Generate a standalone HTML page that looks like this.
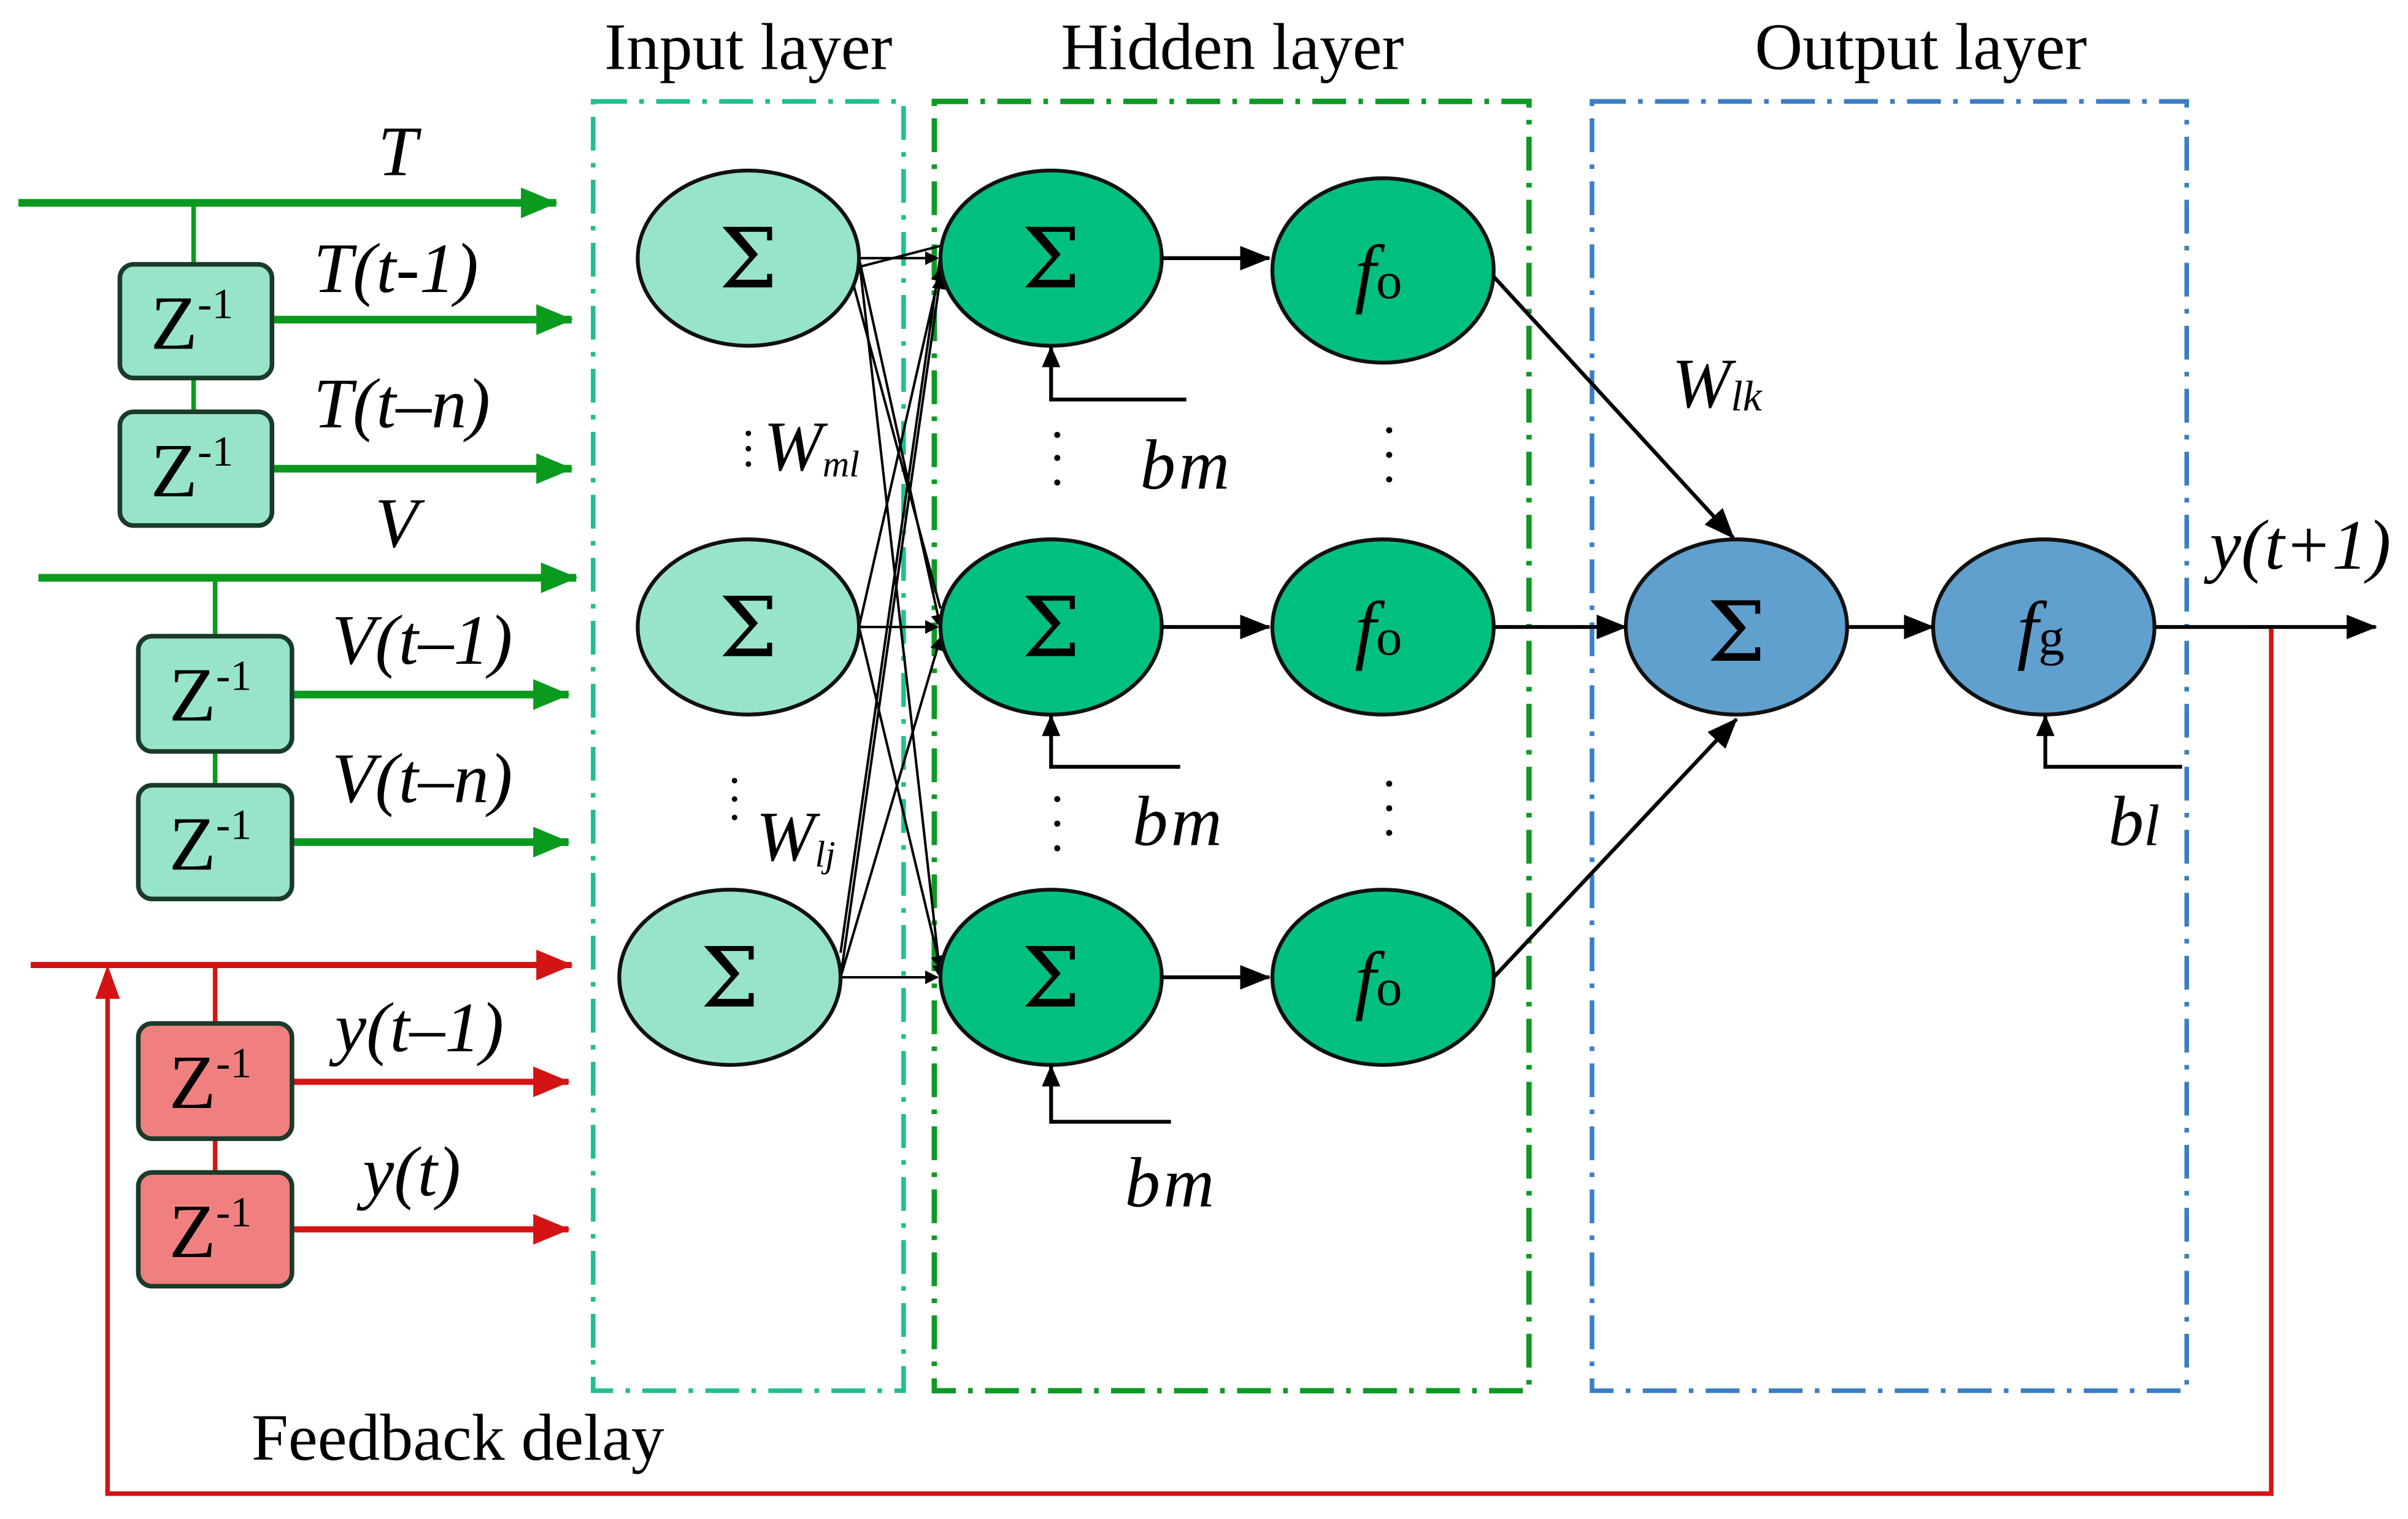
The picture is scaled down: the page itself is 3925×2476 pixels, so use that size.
<!DOCTYPE html>
<html><head><meta charset="utf-8"><style>html,body{margin:0;padding:0;background:#fff}svg{display:block}</style></head>
<body>
<svg width="3925" height="2476" viewBox="0 0 1567 988.5" preserveAspectRatio="none" xmlns="http://www.w3.org/2000/svg" font-family="'Liberation Serif', serif">
<defs>
<marker id="ag" markerWidth="24" markerHeight="20" refX="23" refY="10" orient="auto" markerUnits="userSpaceOnUse" viewBox="0 0 24 20"><path d="M0,0 L24,10 L0,20Z" fill="#0a9a1e"/></marker>
<marker id="ar" markerWidth="24" markerHeight="20" refX="23" refY="10" orient="auto" markerUnits="userSpaceOnUse" viewBox="0 0 24 20"><path d="M0,0 L24,10 L0,20Z" fill="#d41414"/></marker>
<marker id="ak" markerWidth="9" markerHeight="9" refX="8" refY="4.5" orient="auto" markerUnits="userSpaceOnUse" viewBox="0 0 9 9"><path d="M0,0 L9,4.5 L0,9Z" fill="#000"/></marker>
<marker id="akb" markerWidth="20" markerHeight="20" refX="19" refY="8" orient="auto" markerUnits="userSpaceOnUse" viewBox="0 0 20 16"><path d="M0,0 L20,8 L0,16Z" fill="#000"/></marker>
<marker id="akb2" markerWidth="14" markerHeight="14" refX="13" refY="6" orient="auto" markerUnits="userSpaceOnUse" viewBox="0 0 14 12"><path d="M0,0 L14,6 L0,12Z" fill="#000"/></marker>
</defs>

<rect x="386" y="66" width="202" height="839" fill="none" stroke="#1fbf8f" stroke-width="3" stroke-dasharray="22,8,3,8"/>
<rect x="608" y="66" width="387" height="839" fill="none" stroke="#0d9a24" stroke-width="3.5" stroke-dasharray="22,8,3,8"/>
<rect x="1036" y="66" width="387" height="839" fill="none" stroke="#3a7ec4" stroke-width="3" stroke-dasharray="22,8,3,8"/>
<g font-size="43" text-anchor="middle" fill="#000">
<text x="487" y="45">Input layer</text>
<text x="802" y="45">Hidden layer</text>
<text x="1250" y="45">Output layer</text>
<text x="298" y="950">Feedback delay</text>
</g>

<g stroke="#0a9a1e" fill="none">
<line x1="12" y1="132" x2="362" y2="132" marker-end="url(#ag)" stroke-width="5"/>
<line x1="126" y1="132" x2="126" y2="268" stroke-width="3"/>
<line x1="177" y1="208" x2="372" y2="208" marker-end="url(#ag)" stroke-width="5"/>
<line x1="177" y1="305" x2="372" y2="305" marker-end="url(#ag)" stroke-width="5"/>
<line x1="25" y1="376" x2="375" y2="376" marker-end="url(#ag)" stroke-width="5"/>
<line x1="140" y1="376" x2="140" y2="511" stroke-width="3"/>
<line x1="190" y1="452" x2="370" y2="452" marker-end="url(#ag)" stroke-width="5"/>
<line x1="190" y1="548" x2="370" y2="548" marker-end="url(#ag)" stroke-width="5"/>
</g>
<g stroke="#d41414" fill="none">
<line x1="20" y1="628" x2="372" y2="628" marker-end="url(#ar)" stroke-width="4"/>
<line x1="140" y1="628" x2="140" y2="763" stroke-width="3"/>
<line x1="190" y1="704" x2="370" y2="704" marker-end="url(#ar)" stroke-width="4"/>
<line x1="190" y1="800" x2="370" y2="800" marker-end="url(#ar)" stroke-width="4"/>
<polyline points="1478,408 1478,972 70,972 70,640" stroke-width="3"/>
</g>
<path d="M70,628 L62,650 L78,650Z" fill="#d41414"/>

<g stroke="#1a3a2a" stroke-width="3">
<rect x="78" y="172" width="99" height="74" rx="9" fill="#98e4c9"/>
<rect x="78" y="268" width="99" height="74" rx="9" fill="#98e4c9"/>
<rect x="90" y="414" width="100" height="75" rx="9" fill="#98e4c9"/>
<rect x="90" y="511" width="100" height="74" rx="9" fill="#98e4c9"/>
<rect x="90" y="666" width="100" height="75" rx="9" fill="#f08080"/>
<rect x="90" y="763" width="100" height="74" rx="9" fill="#f08080"/>
</g>
<g font-size="50" fill="#000">
<text x="98" y="227">Z<tspan font-size="28" dy="-20">-1</tspan></text>
<text x="98" y="323">Z<tspan font-size="28" dy="-20">-1</tspan></text>
<text x="110" y="469">Z<tspan font-size="28" dy="-20">-1</tspan></text>
<text x="110" y="566">Z<tspan font-size="28" dy="-20">-1</tspan></text>
<text x="110" y="721">Z<tspan font-size="28" dy="-20">-1</tspan></text>
<text x="110" y="818">Z<tspan font-size="28" dy="-20">-1</tspan></text>
</g>
<g font-size="46" font-style="italic" fill="#000">
<text x="246" y="114">T</text>
<text x="204" y="190">T(t-1)</text>
<text x="204" y="278">T(t–n)</text>
<text x="244" y="356">V</text>
<text x="216" y="432">V(t–1)</text>
<text x="216" y="522">V(t–n)</text>
<text x="218" y="684">y(t–1)</text>
<text x="236" y="778">y(t)</text>
<text x="1438" y="370">y(t+1)</text>
</g>

<g stroke="#000" stroke-width="1.6">
<line x1="559" y1="168" x2="610" y2="168" marker-end="url(#ak)"/>
<line x1="559" y1="168" x2="612" y2="408" marker-end="url(#ak)"/>
<line x1="559" y1="168" x2="612" y2="636" marker-end="url(#ak)"/>
<line x1="559" y1="408" x2="612" y2="175" marker-end="url(#ak)"/>
<line x1="559" y1="408" x2="610" y2="408" marker-end="url(#ak)"/>
<line x1="559" y1="408" x2="612" y2="630" marker-end="url(#ak)"/>
<line x1="547" y1="636" x2="612" y2="180" marker-end="url(#ak)"/>
<line x1="547" y1="636" x2="612" y2="415" marker-end="url(#ak)"/>
<line x1="547" y1="636" x2="610" y2="636" marker-end="url(#ak)"/>
<line x1="554" y1="175" x2="612" y2="160"/>
<line x1="554" y1="180" x2="612" y2="396"/>
<line x1="547" y1="620" x2="612" y2="166"/>
</g>

<g stroke="#111" stroke-width="2.5">
<ellipse cx="487" cy="168" rx="72" ry="57" fill="#98e4c9"/>
<ellipse cx="487" cy="408" rx="72" ry="57" fill="#98e4c9"/>
<ellipse cx="475" cy="636" rx="72" ry="57" fill="#98e4c9"/>
<ellipse cx="684" cy="168" rx="72" ry="57" fill="#00c080"/>
<ellipse cx="684" cy="408" rx="72" ry="57" fill="#00c080"/>
<ellipse cx="684" cy="636" rx="72" ry="57" fill="#00c080"/>
<ellipse cx="900" cy="176" rx="72" ry="60" fill="#00c080"/>
<ellipse cx="900" cy="408" rx="72" ry="57" fill="#00c080"/>
<ellipse cx="900" cy="636" rx="72" ry="57" fill="#00c080"/>
<ellipse cx="1130" cy="408" rx="72" ry="57" fill="#5fa0cf"/>
<ellipse cx="1330" cy="408" rx="72" ry="57" fill="#5fa0cf"/>
</g>
<g font-size="54" text-anchor="middle" fill="#000" font-family="'DejaVu Serif', serif">
<text x="487" y="187">Σ</text><text x="487" y="427">Σ</text><text x="475" y="655">Σ</text>
<text x="684" y="187">Σ</text><text x="684" y="427">Σ</text><text x="684" y="655">Σ</text>
<text x="1130" y="430">Σ</text>
</g>
<g font-size="50" font-style="italic" fill="#000" text-anchor="middle">
<text x="897" y="194">f<tspan font-size="34" font-style="normal">o</tspan></text>
<text x="897" y="426">f<tspan font-size="34" font-style="normal">o</tspan></text>
<text x="897" y="654">f<tspan font-size="34" font-style="normal">o</tspan></text>
<text x="1328" y="426">f<tspan font-size="34" font-style="normal">g</tspan></text>
</g>

<g stroke="#000" stroke-width="2.5" fill="none">
<line x1="756" y1="168" x2="826" y2="168" marker-end="url(#akb)"/>
<line x1="756" y1="408" x2="826" y2="408" marker-end="url(#akb)"/>
<line x1="756" y1="636" x2="826" y2="636" marker-end="url(#akb)"/>
<line x1="972" y1="180" x2="1128" y2="350" marker-end="url(#akb)"/>
<line x1="972" y1="408" x2="1058" y2="408" marker-end="url(#akb)"/>
<line x1="972" y1="636" x2="1130" y2="468" marker-end="url(#akb)"/>
<line x1="1202" y1="408" x2="1258" y2="408" marker-end="url(#akb)"/>
<line x1="1402" y1="408" x2="1546" y2="408" marker-end="url(#akb)"/>
<polyline points="772,260 684,260 684,226" marker-end="url(#akb2)"/>
<polyline points="768,499 684,499 684,466" marker-end="url(#akb2)"/>
<polyline points="762,730 684,730 684,694" marker-end="url(#akb2)"/>
<polyline points="1420,499 1331,499 1331,466" marker-end="url(#akb2)"/>
</g>

<g fill="#000">
<circle cx="688" cy="283" r="2"/><circle cx="688" cy="298" r="2"/><circle cx="688" cy="314" r="2"/>
<circle cx="904" cy="280" r="2"/><circle cx="904" cy="296" r="2"/><circle cx="904" cy="312" r="2"/>
<circle cx="688" cy="520" r="2"/><circle cx="688" cy="536" r="2"/><circle cx="688" cy="552" r="2"/>
<circle cx="904" cy="510" r="2"/><circle cx="904" cy="526" r="2"/><circle cx="904" cy="542" r="2"/>
<circle cx="487" cy="282" r="1.8"/><circle cx="487" cy="292" r="1.8"/><circle cx="487" cy="302" r="1.8"/>
<circle cx="478" cy="508" r="1.8"/><circle cx="478" cy="520" r="1.8"/><circle cx="478" cy="532" r="1.8"/>
</g>
<g font-size="46" font-style="italic" fill="#000">
<text x="497" y="306">W<tspan font-size="24" dy="4">ml</tspan></text>
<text x="492" y="560">W<tspan font-size="24" dy="4">lj</tspan></text>
<text x="1088" y="265">W<tspan font-size="28" dy="2">lk</tspan></text>
<text x="742" y="318">b<tspan dx="2">m</tspan></text>
<text x="737" y="550">b<tspan dx="2">m</tspan></text>
<text x="732" y="785">b<tspan dx="2">m</tspan></text>
<text x="1372" y="550">b<tspan font-size="38">l</tspan></text>
</g>
</svg>
</body></html>
